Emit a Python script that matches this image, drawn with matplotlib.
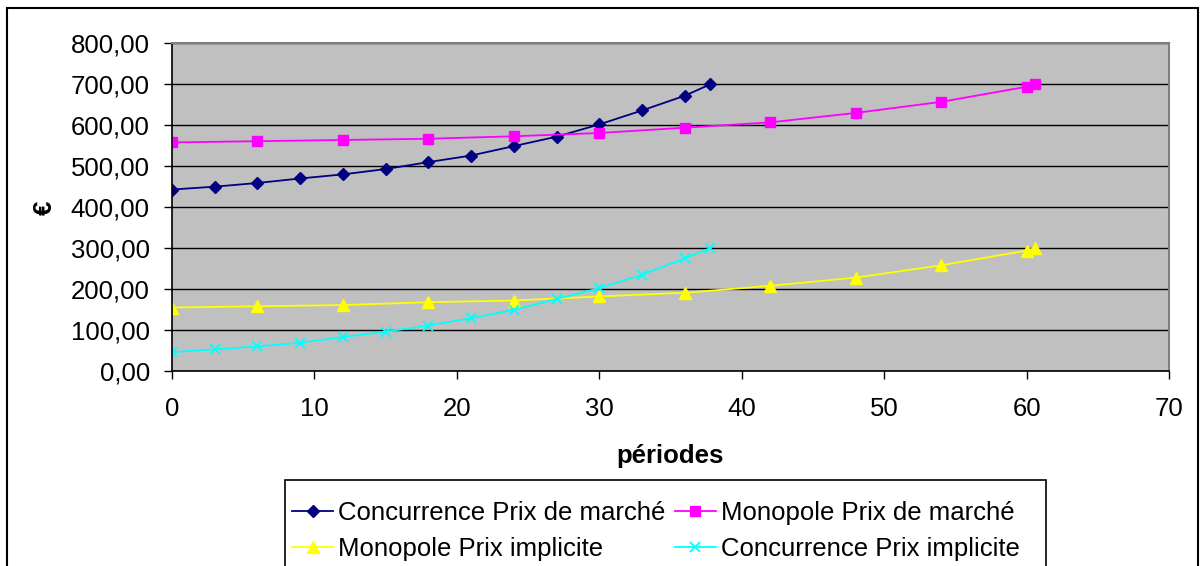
import matplotlib
matplotlib.use('Agg')
import matplotlib.pyplot as plt
from matplotlib.ticker import FuncFormatter, MultipleLocator
from matplotlib.patches import Rectangle

plt.rcParams['font.family'] = ['Liberation Sans', 'DejaVu Sans']

# Concurrence: une periode tous les 3
x_conc = [0, 3, 6, 9, 12, 15, 18, 21, 24, 27, 30, 33, 36, 37.8]
conc_marche = [443, 450, 459, 470, 480, 493, 510, 526, 549, 572, 602, 636, 672, 700]
conc_implicite = [46, 53, 60, 69, 83, 96, 111, 129, 149, 176, 202, 235, 275, 300]

# Monopole: une periode tous les 6
x_mono = [0, 6, 12, 18, 24, 30, 36, 42, 48, 54, 60, 60.6]
mono_marche = [558, 561, 564, 567, 573, 581, 594, 607, 630, 657, 694, 700]
mono_implicite = [155, 158, 161, 168, 172, 182, 191, 208, 228, 258, 294, 300]

labels = ['Concurrence Prix de marché', 'Monopole Prix de marché',
          'Monopole Prix implicite', 'Concurrence Prix implicite']

W, H = 1200, 566
fig = plt.figure(figsize=(W / 100, H / 100), dpi=100)
ax = fig.add_axes([172 / W, 1 - 371 / H, (1169 - 172) / W, (371 - 43.3) / H])
ax.set_facecolor('#C0C0C0')

l1, = ax.plot(x_conc, conc_marche, color='#000080', marker='D', markersize=6.5, lw=1.3)
l2, = ax.plot(x_mono, mono_marche, color='#FF00FF', marker='s', markersize=7.5, lw=1.3)
l3, = ax.plot(x_mono, mono_implicite, color='#FFFF00', marker='^', markersize=8, lw=1.3)
l4, = ax.plot(x_conc, conc_implicite, color='#00FFFF', marker='x', markersize=7.5, mew=1.3, lw=1.3)

ax.set_xlim(0, 70)
ax.set_ylim(0, 800)
ax.xaxis.set_major_locator(MultipleLocator(10))
ax.yaxis.set_major_locator(MultipleLocator(100))
ax.yaxis.set_major_formatter(FuncFormatter(lambda v, p: f'{v:.2f}'.replace('.', ',')))
ax.grid(axis='y', color='black', lw=1)
ax.set_axisbelow(True)
ax.tick_params(labelsize=18.5, length=6, width=1, direction='out')
ax.tick_params(axis='y', pad=10)
ax.tick_params(axis='x', pad=13)
for s in ['top', 'right']:
    ax.spines[s].set_color('#808080')
    ax.spines[s].set_linewidth(1.5)
for s in ['left', 'bottom']:
    ax.spines[s].set_color('black')
    ax.spines[s].set_linewidth(1.2)

ax.set_xlabel('périodes', fontsize=18.5, fontweight='bold', labelpad=16)
fig.text(45 / W, 1 - 208 / H, '€', fontsize=18.5, fontweight='bold', rotation=90,
         ha='center', va='center')

leg = fig.legend([l1, l3, l2, l4], [labels[0], labels[2], labels[1], labels[3]],
                 ncol=2, loc='upper left', bbox_to_anchor=(292 / W, 1 - 501 / H),
                 fontsize=18.5, frameon=False,
                 handlelength=1.6, handletextpad=0.2, columnspacing=0.35,
                 labelspacing=0.45, borderpad=0, borderaxespad=0)

# cadre de la legende (coupe en bas comme l'original)
fig.patches.append(Rectangle((285 / W, -0.05), (1046 - 285) / W, 1 - 480 / H + 0.05,
                             transform=fig.transFigure, fill=False,
                             edgecolor='black', lw=1.2))

# cadre exterieur du graphique
fig.patches.append(Rectangle((7 / W, -0.05), (1198 - 7) / W, 1 - 8 / H + 0.05,
                             transform=fig.transFigure, fill=False,
                             edgecolor='black', lw=1.5))

fig.savefig('out.png', dpi=100)
